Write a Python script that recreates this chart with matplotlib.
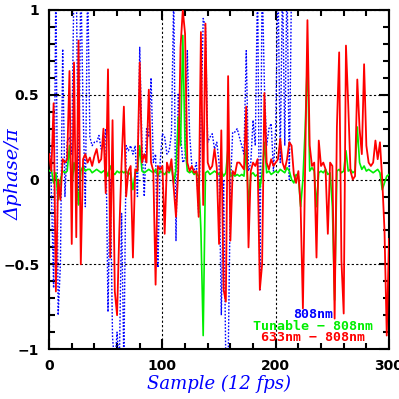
import numpy as np
import matplotlib
matplotlib.use('Agg')
import matplotlib.pyplot as plt
from matplotlib.ticker import MultipleLocator

# sample index (every 2nd sample)
samples = np.arange(0, 301, 2)
samples_808 = np.arange(0, 221, 2)

# 633nm - 808nm
red_633 = [
    0.15, 0.05, 0.45, -0.66, 0.0, -0.12, 0.12, 0.1, 0.12, 0.64,
    -0.38, 0.69, -0.34, 0.82, -0.5, 0.12, 0.15, 0.1, 0.13, 0.08,
    0.14, 0.18, 0.1, 0.12, 0.3, -0.08, 0.65, -0.46, 0.35, -0.66,
    -0.8, -0.3, 0.1, 0.43, -0.1, 0.05, 0.08, -0.46, 0.06, 0.05,
    0.69, 0.1, 0.15, 0.1, 0.53, 0.1, 0.05, -0.62, 0.08, 0.06,
    0.08, -0.32, 0.1, 0.05, 0.12, -0.05, -0.22, 0.05, 0.78, 1.0,
    0.86, 0.1, 0.05, 0.08, 0.04, 0.05, -0.22, 0.87, -0.15, 0.92,
    0.1, 0.06, 0.08, 0.18, 0.07, -0.38, 0.29, -0.65, -0.72, 0.61,
    -0.36, 0.05, 0.03, 0.1, 0.1, 0.08, 0.06, 0.43, -0.4, 0.05,
    0.1, 0.08, 0.12, -0.65, -0.5, 0.51, 0.1, 0.06, 0.12, 0.08,
    0.1, 0.12, 0.24, 0.1, 0.06, 0.12, 0.22, 0.2, 0.03, -0.02,
    0.05, -0.16, -0.76, 0.1, 0.94, 0.2, 0.08, 0.1, -0.46, 0.23,
    0.08, 0.1, 0.06, -0.32, 0.1, 0.08, -0.82, 0.31, 0.75, -0.48,
    -0.79, 0.79, 0.44, 0.05, 0.0, 0.02, 0.59, 0.3, 0.15, 0.68,
    0.2, 0.1, 0.08, 0.1, 0.23, 0.12, 0.22, 0.0, -0.3, -0.92,
    -0.35,
]

# Tunable - 808nm
green_tun = [
    0.05, 0.06, -0.02, 0.04, -0.12, 0.0, 0.05, 0.04, 0.05, 0.2,
    -0.05, 0.1, 0.02, -0.15, 0.05, 0.08, 0.05, 0.06, 0.06, 0.04,
    0.05, 0.06, 0.05, 0.04, 0.05, 0.06, 0.02, 0.08, 0.04, 0.03,
    0.05, 0.04, 0.05, 0.04, 0.05, 0.03, 0.04, -0.06, 0.04, 0.05,
    0.2, 0.05, 0.04, 0.05, 0.06, 0.05, 0.04, 0.06, 0.02, 0.05,
    0.04, 0.03, 0.05, 0.04, 0.08, -0.02, 0.06, 0.37, 0.2, 0.85,
    0.2, 0.05, 0.04, 0.05, 0.03, 0.04, 0.02, -0.3, -0.92, 0.04,
    0.05, 0.03, 0.04, 0.05, 0.04, 0.03, 0.05, 0.02, 0.04, 0.19,
    0.02, 0.03, 0.02, 0.03, 0.02, 0.03, 0.02, 0.18, -0.16, 0.03,
    0.04, 0.02, 0.03, -0.05, 0.03, 0.22, 0.04, 0.05, 0.03, 0.04,
    0.05, 0.04, 0.06, 0.05, 0.04, 0.07, 0.05, 0.0, -0.02, 0.03,
    0.02, -0.16, 0.0, 0.3, 0.72, 0.05, 0.07, 0.05, -0.16, 0.04,
    0.05, 0.04, 0.06, 0.03, 0.04, -0.16, -0.71, 0.05, 0.06, 0.04,
    0.05, 0.17, 0.05, 0.06, 0.04, 0.05, 0.31, 0.1, 0.06, 0.08,
    0.05, 0.06, 0.05, 0.04, 0.05, 0.06, 0.04, -0.06, -0.02, 0.02,
    0.03,
]

# 808nm
blue_808 = [
    0.28, -0.05, -0.64, 1.2, -0.8, -0.5, 0.77, -0.1, 0.22, 0.25,
    0.15, 1.2, 1.2, -0.15, 1.2, 0.42, -0.16, 1.2, 0.25, 0.2,
    0.22, 0.22, 0.26, 0.18, 0.2, 0.3, -0.78, 0.0, -0.93, -1.1,
    -0.9, -1.1, -0.2, -1.1, 0.2, 0.17, 0.2, 0.15, 0.2, -0.1,
    0.78, 0.2, -0.1, 0.3, 0.25, 0.6, 0.1, 0.15, -0.52, 0.1,
    0.27, 0.25, 0.15, 0.17, 0.27, 1.1, -0.36, 0.51, 0.27, 0.1,
    0.12, 0.76, 0.27, 0.08, 0.05, 0.1, -0.2, 0.3, 0.95, 0.9,
    0.22, 0.25, 0.27, 0.18, 0.22, 0.1, -0.8, 0.0, -1.1, -1.1,
    -0.05, 0.28, 0.28, 0.3, 0.25, 0.2, 0.15, 0.76, 0.05, 0.1,
    0.35, 0.2, 1.2, -0.65, 1.2, 0.56, 0.2, 0.3, 0.33, 0.05,
    0.3, 1.2, 0.1, 1.2, 0.2, 1.2, 0.0, 1.2, 1.2, 1.2,
    1.2,
]

xticks = [0, 100, 200, 300]
yticks = [-1, -0.5, 0, 0.5, 1]
ytick_labels = ['\u22121', '\u22120.5', '0', '0.5', '1']

fig = plt.figure(figsize=(3.99, 3.99), dpi=100)
ax = fig.add_axes([0.123, 0.125, 0.852, 0.85])

ax.plot(samples_808, blue_808, color='#0000ff', lw=1.0, ls=(0, (1.2, 1.2)), zorder=2)
ax.plot(samples, green_tun, color='#00ee00', lw=1.2, zorder=3)
ax.plot(samples, red_633, color='#ff0000', lw=1.3, zorder=4)

ax.set_xlim(0, 300)
ax.set_ylim(-1, 1)
ax.set_xticks(xticks)
ax.set_yticks(yticks)
ax.set_yticklabels(ytick_labels)
ax.xaxis.set_minor_locator(MultipleLocator(20))
ax.yaxis.set_minor_locator(MultipleLocator(0.1))
ax.tick_params(which='both', direction='in', top=True, right=True, width=1.5)
ax.tick_params(which='major', length=7, labelsize=10)
ax.tick_params(axis='y', which='major', pad=7)
ax.tick_params(axis='x', which='major', pad=7)
ax.tick_params(which='minor', length=4)
for lab in ax.get_xticklabels() + ax.get_yticklabels():
    lab.set_fontweight('bold')
for sp in ax.spines.values():
    sp.set_linewidth(1.5)

# dotted grid at inner major ticks
ax.grid(which='major', color='black', lw=0.8, ls=(0, (2, 2)))

ax.set_xlabel('Sample (12 fps)', color='#0000ff', fontsize=13,
              family='DejaVu Serif', style='italic')
ax.set_ylabel('\u0394phase/\u03c0', color='#0000ff', fontsize=14,
              family='DejaVu Serif', style='italic')
ax.xaxis.set_label_coords(0.5, -0.077)
ax.yaxis.set_label_coords(-0.078, 0.516)

# coloured legend text
legend_font = dict(family='DejaVu Sans Mono', fontweight='bold', fontsize=9.5,
                   ha='center', va='center', transform=ax.transAxes)
ax.text(0.777, 0.103, '808nm', color='#0000ff', **legend_font)
ax.text(0.777, 0.068, 'Tunable \u2212 808nm', color='#00ee00', **legend_font)
ax.text(0.777, 0.034, '633nm \u2212 808nm', color='#ff0000', **legend_font)

fig.savefig('out.png', dpi=100)
